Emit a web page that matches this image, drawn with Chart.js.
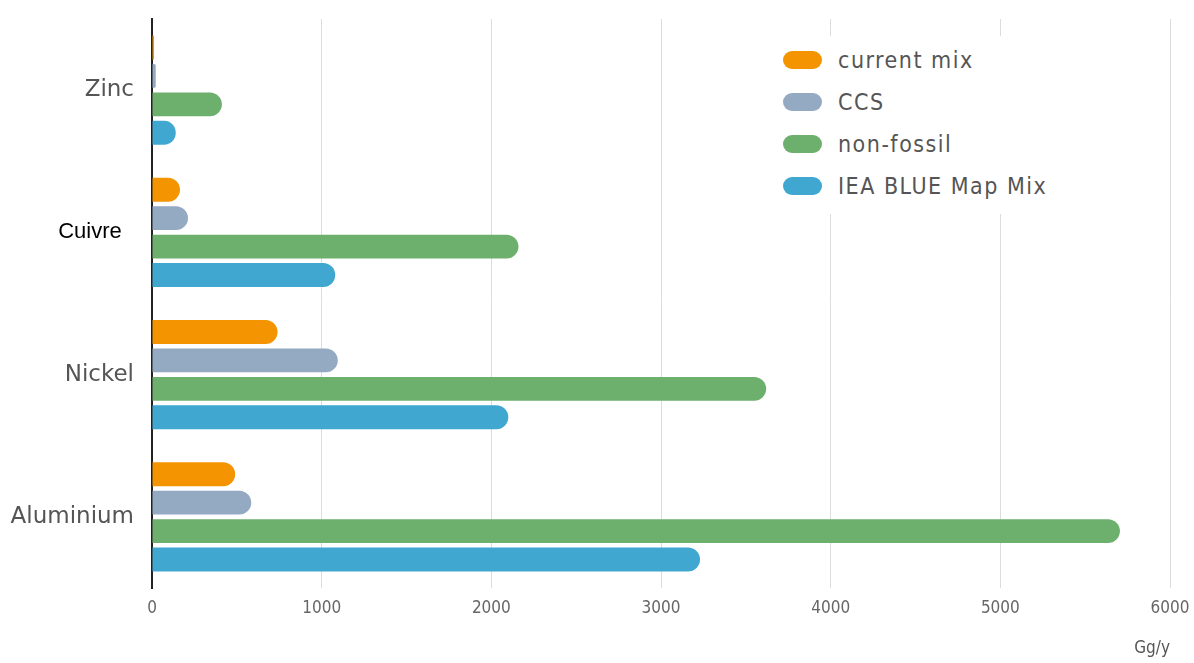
<!DOCTYPE html>
<html>
<head>
<meta charset="utf-8">
<script src="https://cdn.jsdelivr.net/npm/chart.js@4.4.0/dist/chart.umd.min.js"></script>
<style>
    html, body { margin: 0; padding: 0; background: #fff; }
    #wrap { position: relative; width: 1194px; height: 663px; }
    #legend {
        position: absolute; left: 766px; top: 36px; width: 310px; height: 178px;
        background: #fff; font-family: "DejaVu Sans Condensed", "Liberation Sans Narrow", sans-serif;
        font-size: 23px; letter-spacing: 1.5px; color: #555;
    }
    #legend .item { position: absolute; left: 17px; height: 24px; line-height: 24px; white-space: nowrap; }
    #legend .swatch {
        display: inline-block; width: 39px; height: 18px; border-radius: 9px;
        vertical-align: middle; margin-right: 16px; position: relative; top: -2px;
    }
</style>
</head>
<body>
<div id="wrap">
    <canvas id="chart" width="1194" height="663"></canvas>
    <div id="legend"></div>
</div>
<script>
    // categories and series (Gg/y)
    var categories = ['Zinc', 'Cuivre', 'Nickel', 'Aluminium'];
    var currentMix = [12, 165, 740, 490];
    var ccs = [22, 212, 1095, 585];
    var nonFossil = [412, 2160, 3620, 5705];
    var ieaBlueMap = [140, 1080, 2100, 3230];
    var seriesNames = ['current mix', 'CCS', 'non-fossil', 'IEA BLUE Map Mix'];
    var seriesColors = ['#f39400', '#94a9c2', '#6db06d', '#40a8d0'];
    var xTicks = [0, 1000, 2000, 3000, 4000, 5000, 6000];

    var seriesValues = [currentMix, ccs, nonFossil, ieaBlueMap];
    var narrow = '"Liberation Sans Narrow", "DejaVu Sans Condensed", sans-serif';

    var datasets = seriesNames.map(function (name, i) {
        return {
            label: name,
            data: seriesValues[i],
            backgroundColor: seriesColors[i],
            borderRadius: 12,
            borderSkipped: 'start',
            barPercentage: 0.84,
            categoryPercentage: 0.8
        };
    });

    // html legend, inside the plot like the original
    var legend = document.getElementById('legend');
    seriesNames.forEach(function (name, i) {
        var item = document.createElement('div');
        item.className = 'item';
        item.style.top = (12 + i * 42) + 'px';
        var sw = document.createElement('span');
        sw.className = 'swatch';
        sw.style.background = seriesColors[i];
        item.appendChild(sw);
        item.appendChild(document.createTextNode(name));
        legend.appendChild(item);
    });

    new Chart(document.getElementById('chart').getContext('2d'), {
        type: 'bar',
        data: { labels: categories, datasets: datasets },
        options: {
            indexAxis: 'y',
            responsive: false,
            animation: false,
            layout: { padding: { top: 19, right: 24, bottom: 0, left: 0 } },
            plugins: { legend: { display: false }, tooltip: { enabled: false } },
            scales: {
                x: {
                    min: 0,
                    max: 6000,
                    afterBuildTicks: function (scale) {
                        scale.ticks = xTicks.map(function (v) { return { value: v }; });
                    },
                    afterFit: function (scale) {
                        scale.height = 75;
                        scale.paddingLeft = 0;
                        scale.paddingRight = 0;
                    },
                    grid: { color: '#dcdcdc', lineWidth: 1, drawTicks: false },
                    border: { display: false },
                    ticks: {
                        color: '#666',
                        padding: 10,
                        maxRotation: 0,
                        callback: function (v) { return String(v); },
                        font: { family: narrow, size: 17 }
                    },
                    title: {
                        display: true,
                        text: 'Gg/y',
                        align: 'end',
                        color: '#555',
                        padding: { top: 18 },
                        font: { family: narrow, size: 17 }
                    }
                },
                y: {
                    afterFit: function (scale) {
                        scale.width = 152;
                        scale.paddingTop = 0;
                        scale.paddingBottom = 0;
                    },
                    grid: { display: false },
                    border: { display: true, color: '#222', width: 2 },
                    ticks: {
                        padding: 10,
                        color: function (ctx) { return ctx.index === 1 ? '#000' : '#555'; },
                        callback: function (v, i) {
                            // Cuivre sits a bit further left in the original
                            return i === 1 ? categories[i] + '  ' : categories[i];
                        },
                        font: function (ctx) {
                            if (ctx.index === 1) {
                                return { family: '"Liberation Sans", Arial, sans-serif', size: 22 };
                            }
                            return { family: '"DejaVu Sans", sans-serif', size: 23 };
                        }
                    }
                }
            }
        }
    });
</script>
</body>
</html>
